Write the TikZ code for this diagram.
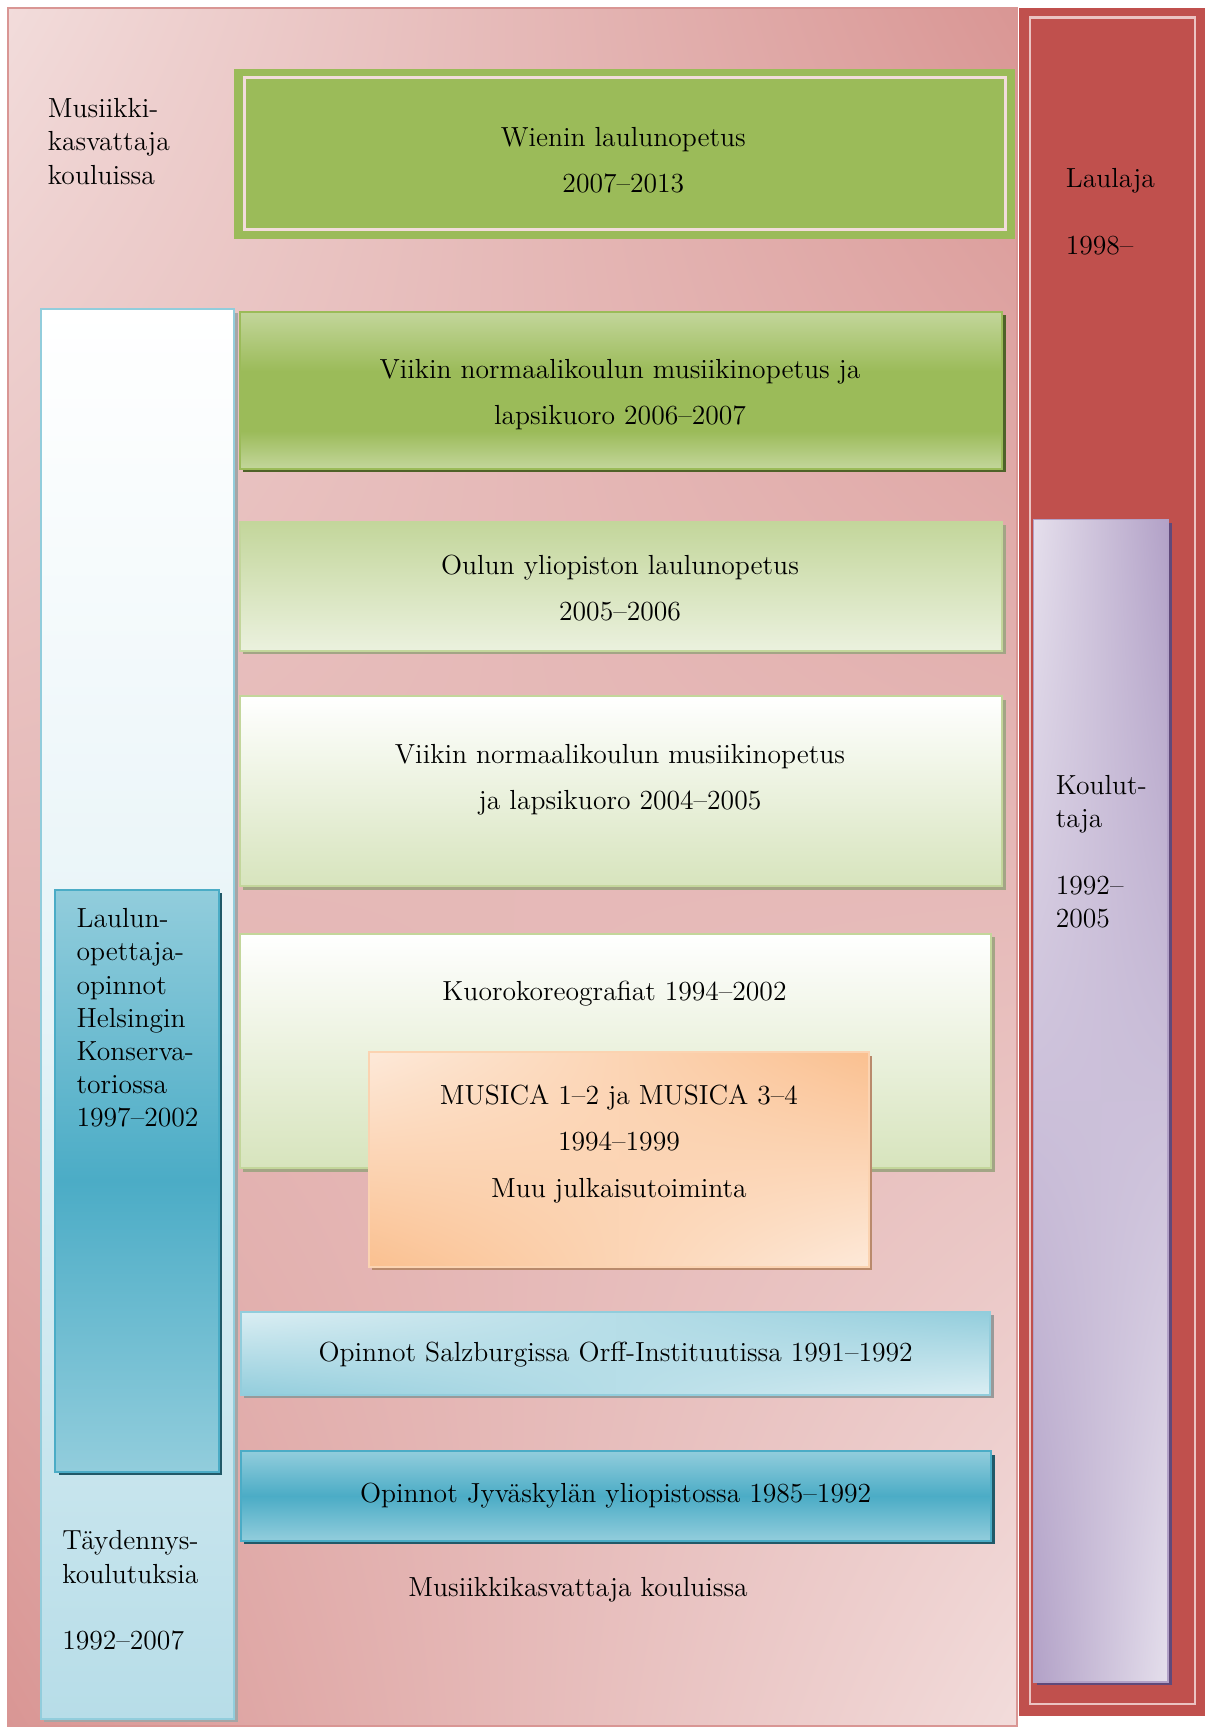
\documentclass[tikz,border=0pt]{standalone}
\usepackage{xcolor}
\usepackage{tikz}
\usetikzlibrary{shapes,arrows,positioning,shadings}

\definecolor{bgLight}{HTML}{F2DCDB}
\definecolor{bgDark}{HTML}{D99694}
\definecolor{redCol}{HTML}{C0504D}
\definecolor{redLine}{HTML}{EBC3C2}
\definecolor{olive}{HTML}{9BBB59}
\definecolor{oliveLight}{HTML}{C3D69B}
\definecolor{olivePale}{HTML}{D7E4BD}
\definecolor{oliveFaint}{HTML}{EBF1DE}
\definecolor{oliveEdge}{HTML}{4F6228}
\definecolor{oliveGrey}{HTML}{A3A585}
\definecolor{aqua}{HTML}{4BACC6}
\definecolor{aquaLight}{HTML}{92CDDC}
\definecolor{aquaPale}{HTML}{B7DDE8}
\definecolor{aquaFaint}{HTML}{DBEEF3}
\definecolor{aquaDark}{HTML}{215968}
\definecolor{lilac}{HTML}{E5DFEC}
\definecolor{lilacDark}{HTML}{B2A1C7}
\definecolor{lilacEdge}{HTML}{5F497A}
\definecolor{peach}{HTML}{FAC090}
\definecolor{peachLight}{HTML}{FDE9D9}
\definecolor{peachShadow}{HTML}{B98A6C}

% banded fills (the path covers 25bp to 75bp, bottom to top)
\pgfdeclareverticalshading{oliveband}{100bp}{color(0bp)=(oliveLight); color(25bp)=(oliveLight); color(37bp)=(olive); color(56bp)=(olive); color(75bp)=(oliveLight); color(100bp)=(oliveLight)}
\pgfdeclareverticalshading{aquaband}{100bp}{color(0bp)=(aquaLight); color(25bp)=(aquaLight); color(50bp)=(aqua); color(75bp)=(aquaLight); color(100bp)=(aquaLight)}
\pgfdeclareverticalshading{paleband}{100bp}{color(0bp)=(aquaPale); color(25bp)=(aquaPale); color(50bp)=(white!65!aquaPale); color(75bp)=(white); color(100bp)=(white)}

\tikzset{
  boxtext/.style={font=\fontsize{13.8}{23.2}\selectfont, align=center, inner sep=0pt},
  sidetext/.style={font=\fontsize{13.8}{16.6}\selectfont, align=left, inner sep=0pt, anchor=west}
}

\begin{document}
\begin{tikzpicture}[x=0.5525pt, y=-0.5525pt]
\useasboundingbox (0,0) rectangle (1094,1568);
\fill[white] (0,0) rectangle (1094,1568);

% background
\shade[upper left=bgLight, upper right=bgDark, lower left=bgDark, lower right=bgLight]
  (7,7) rectangle (920,1562);
\draw[bgDark, line width=1pt] (7,7) rectangle (920,1562);

% Laulaja column
\fill[redCol] (922,7) rectangle (1090,1553);
\draw[redLine, line width=1.2pt] (932,16) rectangle (1081,1542);
\node[sidetext] (laulaja) at (964,191.5) {Laulaja\\[16.6pt]1998\textendash};

% Kouluttaja column
\fill[lilacEdge] (938,473) rectangle (1060,1525);
\shade[upper left=lilac, upper right=lilacDark, lower left=lilacDark, lower right=lilac]
  (935,470) rectangle (1057,1522);
\draw[lilacDark, line width=0.8pt] (935,470) rectangle (1057,1522);
\node[sidetext] (kouluttaja) at (955,770.5) {Koulut-\\taja\\[16.6pt]1992\textendash\\2005};

% Wienin laulunopetus
\fill[olive] (212,62) rectangle (918,216);
\draw[bgLight, line width=1.4pt] (221,70) rectangle (910,208);
\node[boxtext] (wien) at (564,145) {Wienin laulunopetus\\2007\textendash2013};
\node[sidetext] (musiikki) at (43,128) {Musiikki-\\kasvattaja\\kouluissa};

% Taydennyskoulutuksia column
\fill[gray!70] (40,283) rectangle (215,1558);
\shade[shading=paleband] (37,280) rectangle (212,1555);
\draw[aquaLight, line width=1pt] (37,280) rectangle (212,1555);
\node[sidetext] (taydennys) at (56,1439) {T\"aydennys-\\koulutuksia\\[16.6pt]1992\textendash2007};

% Laulunopettajaopinnot
\fill[aquaDark] (53,808) rectangle (201,1335);
\shade[shading=aquaband] (50,805) rectangle (198,1332);
\draw[aqua, line width=1pt] (50,805) rectangle (198,1332);
\node[sidetext] (laulunop) at (69,921) {Laulun-\\opettaja-\\opinnot\\Helsingin\\Konserva-\\toriossa\\1997\textendash2002};

% Viikin 2006-2007
\fill[oliveEdge] (220,285) rectangle (910,427);
\shade[shading=oliveband] (217,282) rectangle (907,424);
\draw[olive, line width=1pt] (217,282) rectangle (907,424);
\node[boxtext] (viikin1) at (561,357) {Viikin normaalikoulun musiikinopetus ja\\lapsikuoro 2006\textendash2007};

% Oulun yliopisto
\fill[oliveGrey] (220,475) rectangle (910,592);
\shade[top color=oliveLight, bottom color=oliveFaint] (217,472) rectangle (907,589);
\draw[oliveLight, line width=1pt] (217,472) rectangle (907,589);
\node[boxtext] (oulu) at (561,532) {Oulun yliopiston laulunopetus\\2005\textendash2006};

% Viikin 2004-2005
\fill[oliveGrey] (220,633) rectangle (910,805);
\shade[top color=white, bottom color=olivePale] (217,630) rectangle (907,802);
\draw[oliveLight, line width=1pt] (217,630) rectangle (907,802);
\node[boxtext] (viikin2) at (561,705.5) {Viikin normaalikoulun musiikinopetus\\ja lapsikuoro 2004\textendash2005};

% Kuorokoreografiat
\fill[oliveGrey] (220,848) rectangle (900,1060);
\shade[top color=white, bottom color=olivePale] (217,845) rectangle (897,1057);
\draw[oliveLight, line width=1pt] (217,845) rectangle (897,1057);
\node[boxtext] (kuoro) at (556,899) {Kuorokoreografiat 1994\textendash2002};

% MUSICA
\fill[peachShadow] (337,955) rectangle (789,1149);
\shade[upper left=peachLight, upper right=peach, lower left=peach, lower right=peachLight]
  (334,952) rectangle (786,1146);
\draw[peach!70!white, line width=1pt] (334,952) rectangle (786,1146);
\node[boxtext] (musica) at (560,1035) {MUSICA 1\textendash2 ja MUSICA 3\textendash4\\1994\textendash1999\\Muu julkaisutoiminta};

% Salzburg
\fill[gray!80] (221,1190) rectangle (899,1265);
\shade[upper left=aquaFaint, upper right=aquaLight, lower left=aquaLight, lower right=aquaFaint]
  (218,1187) rectangle (896,1262);
\draw[aquaLight, line width=1pt] (218,1187) rectangle (896,1262);
\node[boxtext] (salzburg) at (557,1226) {Opinnot Salzburgissa Orff-Instituutissa 1991\textendash1992};

% Jyvaskyla
\fill[aquaDark] (221,1316) rectangle (900,1397);
\shade[shading=aquaband] (218,1313) rectangle (897,1394);
\draw[aqua, line width=1pt] (218,1313) rectangle (897,1394);
\node[boxtext] (jyvaskyla) at (557,1353) {Opinnot Jyv\"askyl\"an yliopistossa 1985\textendash1992};

\node[boxtext] (kouluissa) at (523,1438) {Musiikkikasvattaja kouluissa};
\end{tikzpicture}
\end{document}
